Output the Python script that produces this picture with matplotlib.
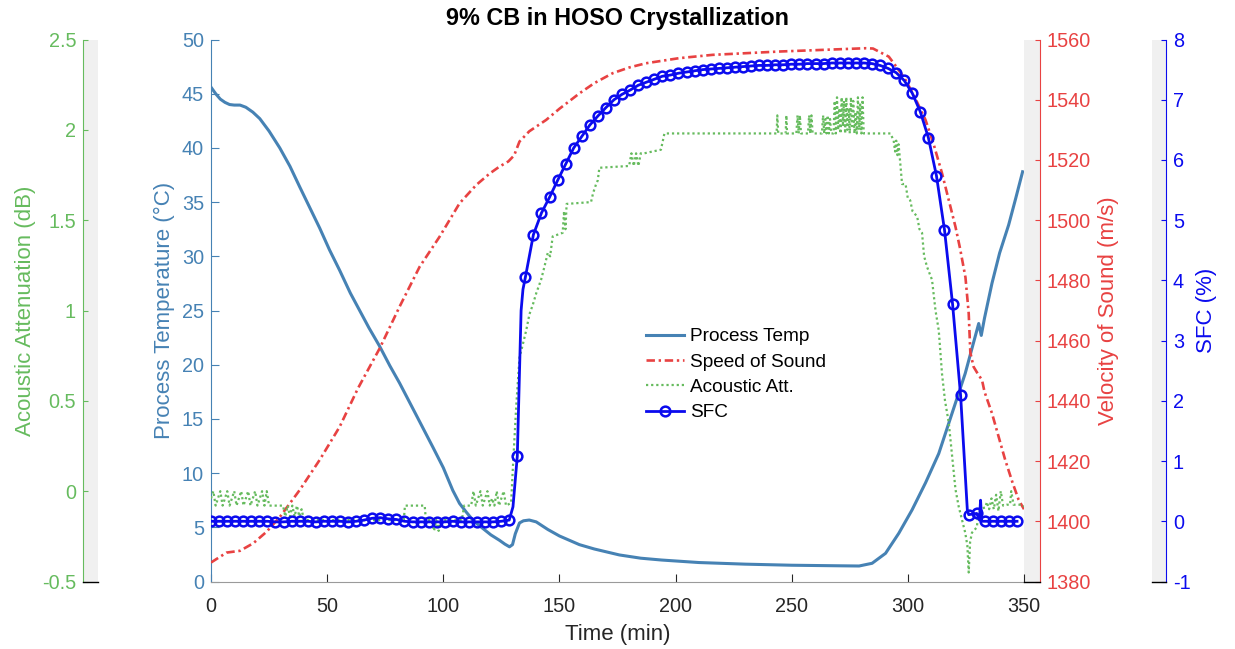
import numpy as np
import matplotlib
matplotlib.use("Agg")
import matplotlib.pyplot as plt
from matplotlib.patches import Rectangle
from matplotlib.lines import Line2D

plt.rcParams['font.family'] = ['Liberation Sans', 'DejaVu Sans']
plt.rcParams['axes.unicode_minus'] = False

# ---------------- data ----------------
# Process temperature (deg C) vs time (min)
temp_t = [0, 2, 4, 6, 8, 10, 12.5, 15, 18, 21, 25, 29.6, 34, 38.2, 42.5, 46.8, 51, 55.4,
          60, 64, 68, 72.6, 77, 81.2, 88, 95.5, 100, 104.1, 107, 109.9, 113, 117, 120.5,
          124.2, 126.5, 128.5, 129.8, 131, 132.8, 134.5, 137, 140, 145, 150, 158.6, 165,
          175.8, 185, 194, 210, 230, 250, 270, 279, 284.6, 290.4, 296.1, 301.8, 307.6,
          313.3, 319, 324.7, 330.5, 331.6, 333, 336.2, 339.5, 343.4, 346.5, 349.4]
temp_v = [45.6, 45.0, 44.5, 44.2, 44.0, 43.95, 43.95, 43.75, 43.3, 42.7, 41.55, 40.0, 38.3,
          36.4, 34.5, 32.6, 30.6, 28.7, 26.6, 25.0, 23.4, 21.7, 19.9, 18.3, 15.5, 12.4,
          10.5, 8.4, 7.2, 6.4, 5.6, 4.9, 4.3, 3.8, 3.45, 3.2, 3.4, 4.4, 5.4, 5.6, 5.67,
          5.5, 4.8, 4.2, 3.4, 3.0, 2.45, 2.15, 1.98, 1.75, 1.6, 1.5, 1.45, 1.43, 1.68, 2.6,
          4.45, 6.6, 9.1, 11.8, 15.5, 19.2, 23.8, 22.7, 24.3, 27.5, 30.3, 32.9, 35.4, 37.8]

# Speed of sound (m/s)
sos_t = [0, 6.7, 12.5, 18.2, 23.9, 29.7, 38.2, 46.8, 55.4, 63.3, 72.6, 81.2, 89.8, 98.4,
         107, 114.2, 120, 124.2, 128, 130.5, 132.8, 137, 144.3, 150, 158.6, 165, 172.9,
         180, 187.2, 201.5, 215.9, 244.5, 265, 281.8, 285, 287.5, 291.8, 295, 299, 303,
         307.6, 311, 314.7, 317.5, 320.5, 322.5, 324.8, 326.2, 326.9, 328.3, 330.4, 331.9,
         333, 336.2, 341.9, 345, 347.7, 350]
sos_v = [1386.3, 1389.6, 1390.2, 1392.7, 1396.5, 1401.5, 1410.4, 1420.4, 1431.4, 1444.2,
         1457.4, 1471.3, 1484.5, 1494.5, 1505.6, 1511.7, 1515.5, 1517.8, 1519.5, 1521.5,
         1526.1, 1529.5, 1533.3, 1537, 1542.1, 1545.5, 1548.8, 1550.7, 1552.1, 1553.8,
         1554.9, 1556, 1556.6, 1557.1, 1557.0, 1556.0, 1554.3, 1551, 1546.6, 1540.8,
         1533.3, 1525.5, 1515.6, 1507, 1497.8, 1490.5, 1481, 1469, 1456, 1451.3, 1448.6,
         1447, 1443, 1435.9, 1420.4, 1413, 1407.1, 1404]

# Acoustic attenuation (dB)
att_t = [0, 1, 2, 3, 4, 5, 6, 7, 8, 9, 10, 11, 12, 13, 14, 15, 16, 17, 18, 19, 20, 21, 22,
         23, 24, 25, 31, 32, 33, 34, 35, 36, 37, 38, 39, 40, 83, 83.5, 92, 92.5, 95, 96, 97,
         98, 99, 108, 109, 112, 113, 114, 115, 116, 117, 118, 119, 120, 121, 122, 123, 124,
         125, 126, 127, 128.5, 129.2, 130, 131.4, 132.8, 134, 135.7, 137.1, 138.5, 140,
         142.1, 143.5, 145, 146, 147.1, 151.4, 152, 152.6, 153.1, 163.6, 164.5, 165.8,
         166.5, 167.2, 180, 181, 182, 183, 184, 185, 186.5, 193.7, 195.2, 243.5, 243.8,
         244.2, 247.4, 247.7, 248, 252, 252.5, 253, 253.5, 254, 257, 257.5, 258, 258.5,
         259, 263, 263.5, 264, 264.5, 265, 265.5, 266, 266.5, 267, 268, 268.5, 269, 269.5,
         270, 270.5, 271, 271.5, 272, 272.5, 273, 273.5, 274, 274.5, 275, 275.5, 276,
         276.5, 277, 277.5, 278, 278.5, 279, 279.5, 280, 280.5, 281, 292.5, 293.9, 294.5,
         295, 295.5, 296, 296.5, 297.5, 299, 300, 301, 302, 304, 305, 306.1, 307, 308.3,
         310.4, 311.9, 313.3, 314.7, 316, 317.6, 319, 320.5, 321.9, 324.7, 325.6, 326.2,
         326.8, 327.6, 329.7, 330.5, 333.4, 334, 335, 336, 337, 338, 339, 340, 341, 342.5,
         344, 344.5, 345.5, 346.2, 349, 350]
att_v = [-0.04, 0.0, -0.08, -0.04, 0.0, -0.08, -0.04, 0.0, -0.08, -0.04, 0.0, -0.08, -0.04,
         0.0, -0.08, -0.04, 0.0, -0.08, -0.04, 0.0, -0.08, -0.04, 0.0, -0.08, 0.0, -0.08,
         -0.08, -0.14, -0.08, -0.14, -0.08, -0.14, -0.08, -0.14, -0.1, -0.16, -0.16, -0.08,
         -0.08, -0.16, -0.16, -0.22, -0.16, -0.22, -0.16, -0.16, -0.08, -0.08, 0.0, -0.08,
         -0.04, 0.0, -0.08, -0.04, 0.0, -0.08, -0.04, -0.08, 0.0, -0.08, -0.04, 0.0, -0.08,
         -0.07, -0.065, 0.14, 0.47, 0.74, 0.80, 0.89, 0.98, 1.03, 1.095, 1.17, 1.24, 1.32,
         1.30, 1.41, 1.43, 1.55, 1.45, 1.59, 1.60, 1.65, 1.70, 1.72, 1.79, 1.80, 1.87,
         1.80, 1.87, 1.80, 1.87, 1.87, 1.89, 1.98, 1.98, 2.08, 1.98, 1.98, 2.08, 1.98,
         1.98, 2.08, 1.98, 2.08, 1.98, 1.98, 2.08, 1.98, 2.08, 1.98, 1.98, 2.08, 1.98,
         2.06, 1.98, 2.08, 1.98, 2.06, 1.98, 1.98, 2.16, 1.98, 2.18, 2.0, 2.12, 1.98, 2.18,
         2.02, 2.16, 1.98, 2.18, 2.0, 2.12, 1.98, 2.18, 2.02, 2.16, 1.98, 2.10, 1.98, 2.18,
         2.0, 2.14, 1.98, 2.18, 1.98, 1.98, 1.94, 1.88, 1.94, 1.86, 1.92, 1.85, 1.70, 1.70,
         1.62, 1.61, 1.55, 1.52, 1.45, 1.43, 1.30, 1.24, 1.17, 1.0, 0.89, 0.65, 0.5, 0.38,
         0.2, 0.01, -0.086, -0.23, -0.3, -0.45, -0.28, -0.23, -0.2, -0.10, -0.09, -0.06,
         -0.1, -0.04, -0.1, -0.02, -0.11, 0.0, -0.08, -0.075, -0.075, 0.0, -0.075, -0.075,
         -0.075, -0.085]

# Solid fat content (%) at the marked samples (one every sfc_step minutes)
sfc_step = 3.47
sfc_v = [0.0, 0.0, 0.0, 0.0, 0.0, 0.0, 0.0, 0.0, -0.01, -0.01, 0.0, 0.0, 0.0, -0.01, 0.0,
         0.0, 0.0, -0.01, 0.0, 0.02, 0.05, 0.06, 0.04, 0.03, 0.0, -0.01, -0.01, -0.01,
         -0.01, -0.01, 0.0, -0.01, -0.01, -0.01, -0.01, -0.01, 0.0, 0.02, 1.08, 4.05,
         4.76, 5.12, 5.38, 5.66, 5.93, 6.2, 6.39, 6.58, 6.73, 6.87, 7.0, 7.09, 7.16, 7.24,
         7.29, 7.34, 7.39, 7.41, 7.44, 7.46, 7.48, 7.50, 7.51, 7.52, 7.53, 7.54, 7.55,
         7.56, 7.57, 7.57, 7.58, 7.58, 7.59, 7.59, 7.60, 7.60, 7.60, 7.61, 7.61, 7.61,
         7.61, 7.61, 7.60, 7.57, 7.52, 7.45, 7.32, 7.11, 6.80, 6.37, 5.74, 4.84, 3.61,
         2.09, 0.11, 0.13, 0.0, 0.0, 0.0, 0.0, 0.0]
# extra (unmarked) SFC line points between samples
sfc_extra_t = [130.0, 133.5, 134.3, 325.6, 330.8, 331.3, 331.8]
sfc_extra_v = [0.24, 3.5, 3.85, 0.19, 0.02, 0.35, 0.0]

x_ticks = [0, 50, 100, 150, 200, 250, 300, 350]

# ---------------- styling ----------------
c_temp = '#4682B4'
c_sos = '#E84242'
c_att = '#66BB5E'
c_sfc = '#0B0BEE'
c_text = '#262626'
gray_bar = '#F0F0F0'

W, H = 1235, 649
px = 72 / 100  # points per pixel at dpi 100

fig = plt.figure(figsize=(W / 100, H / 100), dpi=100)
left, right, bottom, top = 211, 1024, 581.5, 39.5
ax = fig.add_axes([left / W, 1 - bottom / H, (right - left) / W, (bottom - top) / H])

# gray side bars of the extra axes
for x0, x1 in [(1024, 1040), (1152, 1166), (83, 98)]:
    fig.add_artist(Rectangle((x0 / W, 1 - bottom / H), (x1 - x0) / W, (bottom - top) / H,
                             transform=fig.transFigure, facecolor=gray_bar,
                             edgecolor='none', zorder=-1))
    fig.add_artist(Line2D([x0 / W, x1 / W], [1 - bottom / H, 1 - bottom / H],
                          transform=fig.transFigure, color='black', lw=1.0))

tick_fs = 14.3
label_fs = 16

# main axis: process temperature
l1, = ax.plot(temp_t, temp_v, color=c_temp, lw=2.2, label='Process Temp')
ax.set_xlim(0, 350)
ax.set_ylim(0, 50)
ax.set_xticks(x_ticks)
ax.set_yticks(np.arange(0, 51, 5))
ax.spines['top'].set_visible(False)
ax.spines['right'].set_visible(False)
ax.spines['left'].set_color(c_temp)
ax.spines['bottom'].set_color('#9a9a9a')
ax.tick_params(axis='x', direction='in', length=8 * px, colors=c_text,
               labelsize=tick_fs, pad=11)
ax.tick_params(axis='y', direction='in', length=8 * px, colors=c_temp,
               labelsize=tick_fs, pad=5)
ax.set_xlabel('Time (min)', fontsize=label_fs, color=c_text, labelpad=6)
ax.set_ylabel('Process Temperature (°C)', fontsize=label_fs, color=c_temp, labelpad=5)

# speed of sound axis
ax_r = ax.twinx()
l2, = ax_r.plot(sos_t, sos_v, color=c_sos, lw=1.9, ls=(0, (3.2, 1.4, 0.9, 1.4)),
                label='Speed of Sound')
ax_r.set_ylim(1380, 1560)
ax_r.set_yticks(np.arange(1380, 1561, 20))
for s in ['left', 'top', 'bottom']:
    ax_r.spines[s].set_visible(False)
ax_r.spines['right'].set_position(('outward', 16 * px))
ax_r.spines['right'].set_color(c_sos)
ax_r.tick_params(axis='y', direction='in', length=5 * px, colors=c_sos,
                 labelsize=tick_fs, pad=5)
ax_r.set_ylabel('Velocity of Sound (m/s)', fontsize=label_fs, color=c_sos, labelpad=5)

# acoustic attenuation axis (far left)
ax_g = ax.twinx()
l3, = ax_g.plot(att_t, att_v, color=c_att, lw=1.6, ls=(0, (1, 1.3)), label='Acoustic Att.')
ax_g.set_ylim(-0.5, 2.5)
ax_g.set_yticks(np.arange(-0.5, 2.51, 0.5))
ax_g.set_yticklabels([f'{v:g}' for v in np.arange(-0.5, 2.51, 0.5)])
ax_g.yaxis.tick_left()
ax_g.yaxis.set_label_position('left')
for s in ['right', 'top', 'bottom']:
    ax_g.spines[s].set_visible(False)
ax_g.spines['left'].set_visible(True)
ax_g.spines['left'].set_position(('outward', 128 * px))
ax_g.spines['left'].set_color(c_att)
ax_g.tick_params(axis='y', direction='in', length=5 * px, colors=c_att,
                 labelsize=tick_fs, pad=5)
ax_g.set_ylabel('Acoustic Attenuation (dB)', fontsize=label_fs, color=c_att, labelpad=4)

# SFC axis (far right)
ax_s = ax.twinx()
mark_t = list(np.arange(len(sfc_v)) * sfc_step)
all_t = mark_t + sfc_extra_t
all_v = sfc_v + sfc_extra_v
is_mark = [True] * len(mark_t) + [False] * len(sfc_extra_t)
order = np.argsort(all_t)
line_t = np.array(all_t)[order]
line_v = np.array(all_v)[order]
mark_idx = [i for i, o in enumerate(order) if is_mark[o]]
l4, = ax_s.plot(line_t, line_v, color=c_sfc, lw=2.0, marker='o', markersize=7,
                markerfacecolor='none', markeredgewidth=1.8, markevery=mark_idx,
                label='SFC')
ax_s.set_ylim(-1, 8)
ax_s.set_yticks(np.arange(-1, 9, 1))
for s in ['left', 'top', 'bottom']:
    ax_s.spines[s].set_visible(False)
ax_s.spines['right'].set_position(('outward', 142 * px))
ax_s.spines['right'].set_color(c_sfc)
ax_s.tick_params(axis='y', direction='in', length=5 * px, colors=c_sfc,
                 labelsize=tick_fs, pad=5)
ax_s.set_ylabel('SFC (%)', fontsize=label_fs, color=c_sfc, labelpad=4)

ax_s.legend([l1, l2, l3, l4], ['Process Temp', 'Speed of Sound', 'Acoustic Att.', 'SFC'],
            loc='upper left', bbox_to_anchor=(646 / W, 1 - 328 / H),
            bbox_transform=fig.transFigure, frameon=False, fontsize=13.7,
            handlelength=2.0, handletextpad=0.3, labelspacing=0.42, borderpad=0,
            borderaxespad=0)

fig.text(617.5 / W, 1 - 18 / H, '9% CB in HOSO Crystallization', ha='center',
         va='center', fontsize=16.8, fontweight='bold', color='black')

fig.savefig('out.png', dpi=100)
